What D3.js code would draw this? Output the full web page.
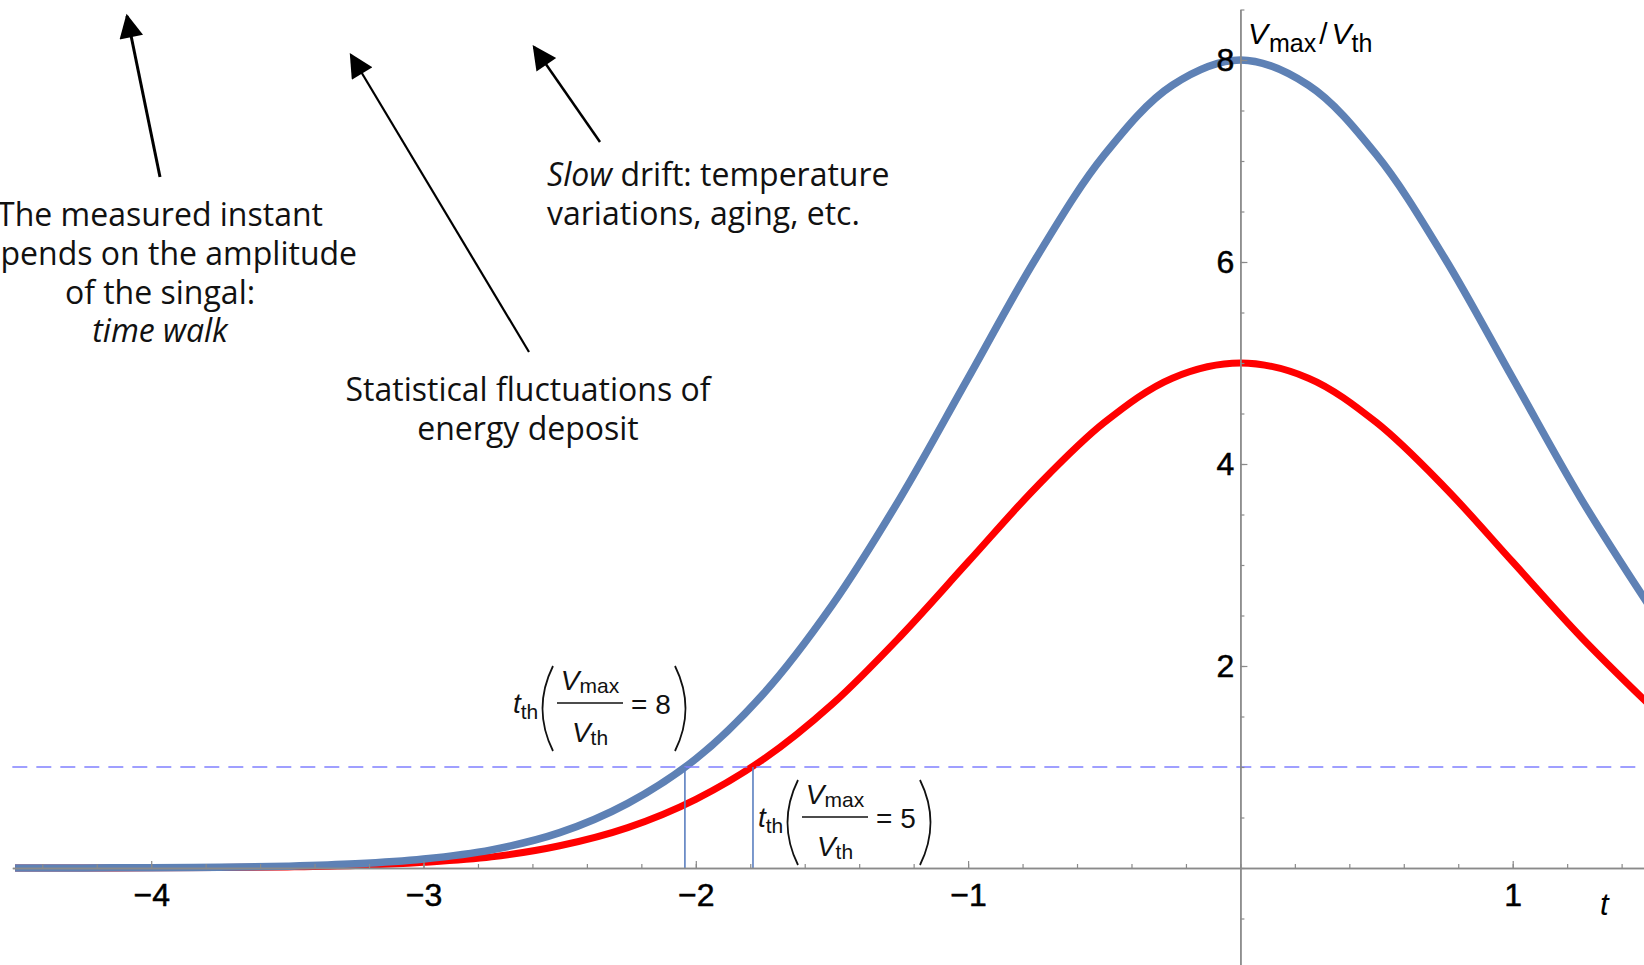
<!DOCTYPE html>
<html>
<head>
<meta charset="utf-8">
<script src="https://cdn.jsdelivr.net/npm/d3@7"></script>
<style>
  html, body { margin: 0; padding: 0; background: #fff; overflow: hidden; }
  svg { display: block; }
</style>
</head>
<body>
<svg id="chart" width="1644" height="965"></svg>
<script>
// Sampled pulse shapes: time t and signal height in units of the threshold V/Vth
const tValues = [-4.5, -4.25, -4.0, -3.75, -3.5, -3.25, -3.0, -2.75, -2.5, -2.25, -2.0,
                 -1.75, -1.5, -1.25, -1.0, -0.75, -0.5, -0.25, 0.0, 0.25, 0.5, 0.75,
                 1.0, 1.25, 1.5];
// Pulse with Vmax/Vth = 8
const pulseHigh = [0.0003, 0.001, 0.003, 0.007, 0.018, 0.041, 0.089, 0.18, 0.35, 0.64, 1.08,
                   1.73, 2.60, 3.66, 4.85, 6.04, 7.06, 7.75, 8.0, 7.75, 7.06, 6.04,
                   4.85, 3.66, 2.60];
// Pulse with Vmax/Vth = 5
const pulseLow = [0.0002, 0.0006, 0.002, 0.004, 0.011, 0.025, 0.056, 0.11, 0.22, 0.40, 0.68,
                  1.08, 1.62, 2.29, 3.03, 3.77, 4.41, 4.85, 5.0, 4.85, 4.41, 3.77,
                  3.03, 2.29, 1.62];

const thresholdLevel = 1;                 // discriminator threshold V/Vth
const crossingTimes = [-2.04, -1.79];     // t_th for each pulse
const crossingRatios = ["8", "5"];        // Vmax/Vth of each pulse

const xTickValues = [-4, -3, -2, -1, 1];
const yTickValues = [2, 4, 6, 8];

const svg = d3.select("#chart");

// ---- scales ----
const X0 = 1240.4, XU = 272.3;   // pixel of t = 0, pixels per unit t
const Y0 = 868, YU = 101;        // pixel of V = 0, pixels per unit V
const x = d3.scaleLinear().domain([-4.51, 1.52]).range([X0 - 4.51 * XU, X0 + 1.52 * XU]);
const y = d3.scaleLinear().domain([-0.97, 8.5]).range([Y0 + 0.97 * YU, Y0 - 8.5 * YU]);

const axisColor = "#8a8a8a";
const tickFont = "'Liberation Sans', Arial, Helvetica, sans-serif";
const intFormat = d3.format("d");

// ---- pulses ----
const line = d3.line()
  .x(d => x(d[0]))
  .y(d => y(d[1]))
  .curve(d3.curveCatmullRom.alpha(0.5));

svg.append("clipPath").attr("id", "plotClip")
  .append("rect").attr("x", x.range()[0]).attr("y", 0)
  .attr("width", 1644 - x.range()[0]).attr("height", 965);

const curves = svg.append("g").attr("clip-path", "url(#plotClip)");
curves.append("path")
  .datum(d3.zip(tValues, pulseLow))
  .attr("d", line)
  .attr("fill", "none")
  .attr("stroke", "#ff0000")
  .attr("stroke-width", 7);
curves.append("path")
  .datum(d3.zip(tValues, pulseHigh))
  .attr("d", line)
  .attr("fill", "none")
  .attr("stroke", "#5e81b5")
  .attr("stroke-width", 7.5);

// threshold level
svg.append("line")
  .attr("x1", x.range()[0]).attr("x2", 1644)
  .attr("y1", y(thresholdLevel)).attr("y2", y(thresholdLevel))
  .attr("stroke", "#8080ff").attr("stroke-width", 1.6)
  .attr("stroke-dasharray", "15,9");

// threshold crossing times
svg.selectAll(".crossing")
  .data(crossingTimes)
  .join("line")
  .attr("class", "crossing")
  .attr("x1", d => x(d)).attr("x2", d => x(d))
  .attr("y1", y(thresholdLevel)).attr("y2", y(0))
  .attr("stroke", "#5b7fc0").attr("stroke-width", 1.6);

// ---- axes (Mathematica style: ticks point into the plot), drawn above the curves ----
const xMinor = d3.range(-22, 8).map(i => +(i * 0.2).toFixed(2));
const yMinor = d3.range(-1, 18).map(i => i * 0.5);

const xAxisG = svg.append("g").attr("transform", `translate(0,${y(0)})`);
xAxisG.append("g")
  .call(d3.axisBottom(x).tickValues(xMinor).tickSize(-4).tickSizeOuter(0).tickFormat(""));
xAxisG.append("g")
  .call(d3.axisBottom(x).tickValues(xTickValues).tickSize(-7).tickSizeOuter(0)
        .tickPadding(15).tickFormat(intFormat));

const yAxisG = svg.append("g").attr("transform", `translate(${x(0)},0)`);
yAxisG.append("g")
  .call(d3.axisLeft(y).tickValues(yMinor).tickSize(-4).tickSizeOuter(0).tickFormat(""));
yAxisG.append("g")
  .call(d3.axisLeft(y).tickValues(yTickValues).tickSize(-7).tickSizeOuter(0)
        .tickPadding(6).tickFormat(intFormat));

svg.selectAll(".domain").attr("stroke", axisColor).attr("stroke-width", 1.4);
svg.selectAll(".tick line").attr("stroke", axisColor).attr("stroke-width", 1.2);
svg.selectAll(".tick text")
  .attr("font-family", tickFont).attr("font-size", 32).attr("fill", "#000")
  .attr("stroke", "#000").attr("stroke-width", 0.5);

// axis labels
svg.append("text")
  .attr("x", 1600).attr("y", 915)
  .attr("font-family", tickFont).attr("font-size", 31).attr("font-style", "italic")
  .text("t");

const yLab = svg.append("text")
  .attr("x", 1248).attr("y", 44)
  .attr("font-family", tickFont).attr("font-size", 30);
yLab.append("tspan").attr("font-style", "italic").text("V");
yLab.append("tspan").attr("font-size", 25).attr("dy", 8).attr("dx", 1).text("max");
yLab.append("tspan").attr("dy", -8).attr("dx", 3).text("/");
yLab.append("tspan").attr("font-style", "italic").attr("dx", 4).text("V");
yLab.append("tspan").attr("font-size", 25).attr("dy", 8).text("th");

// ---- t_th( Vmax / Vth = n ) labels ----
const mathFont = tickFont;
function thresholdLabel(px, py, ratio) {
  const g = svg.append("g").attr("transform", `translate(${px},${py})`)
    .attr("font-family", mathFont).attr("fill", "#111");
  const t = g.append("text").attr("x", -29).attr("y", 10).attr("font-size", 28);
  t.append("tspan").attr("font-style", "italic").text("t");
  t.append("tspan").attr("font-size", 21).attr("dy", 6).text("th");

  g.append("path").attr("d", "M11,-37 Q-10,5.5 11,48")
    .attr("fill", "none").attr("stroke", "#111").attr("stroke-width", 1.8);

  const num = g.append("text").attr("x", 48).attr("y", -13)
    .attr("text-anchor", "middle").attr("font-size", 28);
  num.append("tspan").attr("font-style", "italic").text("V");
  num.append("tspan").attr("font-size", 21).attr("dy", 3).text("max");

  g.append("line").attr("x1", 15).attr("x2", 81).attr("y1", 0).attr("y2", 0)
    .attr("stroke", "#111").attr("stroke-width", 1.4);

  const den = g.append("text").attr("x", 48).attr("y", 39)
    .attr("text-anchor", "middle").attr("font-size", 28);
  den.append("tspan").attr("font-style", "italic").text("V");
  den.append("tspan").attr("font-size", 21).attr("dy", 3).text("th");

  g.append("text").attr("x", 89).attr("y", 11).attr("font-size", 28)
    .text("= " + ratio);

  g.append("path").attr("d", "M133,-37 Q154,5.5 133,48")
    .attr("fill", "none").attr("stroke", "#111").attr("stroke-width", 1.8);
}
thresholdLabel(542, 703, crossingRatios[0]);
thresholdLabel(787, 817, crossingRatios[1]);

// ---- explanatory notes with arrows ----
const noteFont = "'Open Sans', 'Noto Sans', sans-serif";
svg.append("defs").append("marker")
  .attr("id", "arrowHead")
  .attr("viewBox", "0 0 10 10")
  .attr("refX", 9).attr("refY", 5)
  .attr("markerUnits", "userSpaceOnUse")
  .attr("markerWidth", 27).attr("markerHeight", 24)
  .attr("orient", "auto")
  .append("path").attr("d", "M0,0 L10,5 L0,10 Z").attr("fill", "#000");

const arrows = [
  { x1: 160, y1: 177, x2: 127, y2: 16, w: 3 },
  { x1: 529, y1: 352, x2: 351, y2: 55, w: 2.2 },
  { x1: 600, y1: 142, x2: 534, y2: 47, w: 2.5 }
];
svg.selectAll(".arrow")
  .data(arrows)
  .join("line")
  .attr("class", "arrow")
  .attr("x1", d => d.x1).attr("y1", d => d.y1)
  .attr("x2", d => d.x2).attr("y2", d => d.y2)
  .attr("stroke", "#000").attr("stroke-width", d => d.w)
  .attr("marker-end", "url(#arrowHead)");

function note(xPos, yPos, anchor, lines) {
  const t = svg.append("text")
    .attr("font-family", noteFont).attr("font-size", 32).attr("fill", "#111")
    .attr("text-anchor", anchor);
  lines.forEach((parts, i) => {
    const ln = t.append("tspan").attr("x", xPos).attr("y", yPos + i * 38.8);
    parts.forEach(p => {
      const s = ln.append("tspan").text(p.text);
      if (p.italic) s.attr("font-style", "italic");
    });
  });
}

note(160, 226, "middle", [
  [{ text: "The measured instant" }],
  [{ text: "depends on the amplitude" }],
  [{ text: "of the singal:" }],
  [{ text: "time walk", italic: true }]
]);
note(528, 401, "middle", [
  [{ text: "Statistical fluctuations of" }],
  [{ text: "energy deposit" }]
]);
note(547, 186, "start", [
  [{ text: "Slow", italic: true }, { text: " drift: temperature" }],
  [{ text: "variations, aging, etc." }]
]);
</script>
</body>
</html>
